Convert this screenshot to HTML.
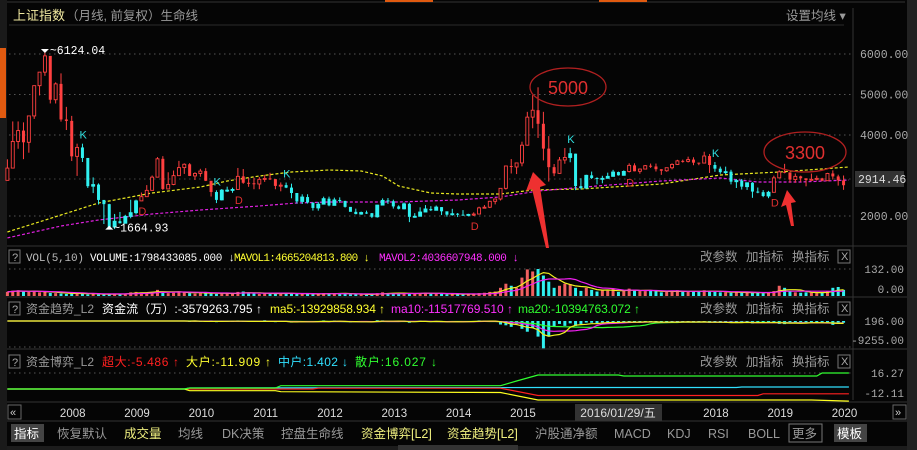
<!DOCTYPE html>
<html><head><meta charset="utf-8">
<style>
html,body{margin:0;padding:0;background:#050505;}
svg{display:block;font-family:"Liberation Sans","Noto Sans CJK SC",sans-serif;}
.m{font-family:"Liberation Mono","Noto Sans CJK SC",monospace;}
</style></head>
<body>
<svg id="c" width="917" height="450" viewBox="0 0 917 450" xmlns="http://www.w3.org/2000/svg">
<rect x="0" y="0" width="917" height="450" fill="#050505"/>
<line x1="0" y1="2" x2="905" y2="2" stroke="#333"/>
<rect x="385" y="0" width="48" height="2" fill="#e05a10"/>
<rect x="599" y="0" width="48" height="2" fill="#e05a10"/>
<rect x="0" y="0" width="7" height="450" fill="#1a1a1a"/>
<rect x="0" y="48" width="6" height="70" fill="#e05a10"/>
<rect x="907" y="0" width="10" height="450" fill="#222"/>
<line x1="853" y1="8" x2="853" y2="400" stroke="#333"/>
<text x="13" y="20" font-size="13" fill="#f0e8a0">上证指数</text>
<text x="66" y="20" font-size="12.5" fill="#9a9a9a">（月线, 前复权）生命线</text>
<text x="786" y="20" font-size="12.5" fill="#9a9a9a">设置均线 ▾</text>
<line x1="9" y1="25" x2="844" y2="25" stroke="#2a2a2a"/>
<line x1="7" y1="246" x2="907" y2="246" stroke="#333"/>
<line x1="7" y1="297" x2="907" y2="297" stroke="#333"/>
<line x1="7" y1="349" x2="907" y2="349" stroke="#333"/>
<line x1="7" y1="402" x2="907" y2="402" stroke="#333"/>
<line x1="7" y1="421" x2="907" y2="421" stroke="#333"/>
<g id="main"></g>
<g id="vol"></g>
<g id="flow"></g>
<g id="game"></g>

<ellipse cx="568" cy="87" rx="38" ry="19" fill="none" stroke="#b02020" stroke-width="1.3"/>
<text x="568" y="94" font-size="18" fill="#e03030" text-anchor="middle">5000</text>
<ellipse cx="805" cy="152" rx="41" ry="20" fill="none" stroke="#b02020" stroke-width="1.3"/>
<text x="805" y="159" font-size="18" fill="#e03030" text-anchor="middle">3300</text>
<polygon points="533,172 526,191 532,189 546,248 549,248 540,187 546,185" fill="#ee3030"/>
<polygon points="787,190 781,207 786,205 791,226 794,226 791,203 796,202" fill="#ee3030"/>

<g font-size="11" class="m">
<rect x="9" y="250" width="11" height="13" fill="none" stroke="#777"/>
<text x="12" y="261" fill="#aaa">?</text>
<text x="26" y="261" fill="#bbb" textLength="58">VOL(5,10)</text>
<text x="90" y="261" fill="#fff" textLength="145">VOLUME:1798433085.000 ↓</text>
<text x="234" y="261" fill="#ffff30" textLength="136">MAVOL1:4665204813.800 ↓</text>
<text x="379" y="261" fill="#ff30ff" textLength="140">MAVOL2:4036607948.000 ↓</text>
</g>
<g font-size="12">
<rect x="9" y="302" width="11" height="13" fill="none" stroke="#777"/>
<text x="12" y="313" fill="#aaa" font-size="11">?</text>
<text x="26" y="313" fill="#999">资金趋势_L2</text>
<text x="102" y="313" fill="#fff" textLength="160">资金流（万）:-3579263.795 ↑</text>
<text x="270" y="313" fill="#ffff30" textLength="115">ma5:-13929858.934 ↑</text>
<text x="391" y="313" fill="#ff30ff" textLength="122">ma10:-11517769.510 ↑</text>
<text x="518" y="313" fill="#30ff30" textLength="122">ma20:-10394763.072 ↑</text>
</g>
<g font-size="12">
<rect x="9" y="355" width="11" height="13" fill="none" stroke="#777"/>
<text x="12" y="366" fill="#aaa" font-size="11">?</text>
<text x="26" y="366" fill="#999">资金博弈_L2</text>
<text x="102" y="366" fill="#ff2020" textLength="77">超大:-5.486 ↑</text>
<text x="186" y="366" fill="#ffff30" textLength="85">大户:-11.909 ↑</text>
<text x="278" y="366" fill="#30e0ff" textLength="70">中户:1.402 ↓</text>
<text x="355" y="366" fill="#30ff30" textLength="82">散户:16.027 ↓</text>
</g>
<g id="btns"></g>

<g>
<rect x="8" y="405" width="13" height="14" fill="none" stroke="#666"/>
<text x="10" y="416" font-size="11" fill="#ccc">«</text>
<rect x="893" y="405" width="13" height="14" fill="none" stroke="#666"/>
<text x="895" y="416" font-size="11" fill="#ccc">»</text>
<rect x="575" y="404" width="87" height="17" fill="#333"/>
<text x="618" y="417" font-size="12" fill="#ddd" text-anchor="middle">2016/01/29/五</text>
<g id="years"></g>
</g>
<g id="tools" font-size="12.5"></g>
<rect x="7" y="446" width="900" height="4" fill="#1c1c1c"/>
<rect x="398" y="445" width="120" height="5" fill="#333"/>
</svg>
<script>
const startLabel = "2007-03";
const closes = [3183,3841,4109,3820,4471,5218,5552,5954,4871,5262,
4383,4348,3473,3693,3433,2736,2776,2397,2293,1729,1871,1821,
1991,2082,2373,2477,2633,2959,3412,2668,2779,2996,3195,3277,
2989,3051,3109,2870,2592,2398,2638,2639,2656,2979,2820,2808,
2790,2905,2928,2911,2743,2762,2701,2568,2359,2468,2333,2199,
2292,2428,2262,2396,2372,2225,2103,2047,2086,2069,1980,2269,
2385,2365,2236,2177,2300,1979,1993,2098,2174,2141,2220,2116,
2033,2056,2033,2026,2039,2048,2201,2217,2363,2420,2683,3235,
3210,3310,3748,4441,4612,4277,3664,3206,3053,3383,3445,3539,
2738,2688,3004,2938,2917,2930,2979,3085,3005,3100,3250,3104,
3159,3242,3223,3155,3117,3192,3273,3361,3349,3393,3317,3307,
3481,3259,3169,3082,3095,2847,2876,2725,2821,2603,2588,2494,
2585,2941,3091,3078,2899,2979,2932,2886,2905,2929,2872,3050,
2977,2880,2760];
const highs = [3400,4335,4335,4312,4476,5218,5552,6124,5900,5300,
5522,4695,4472,3786,3786,3433,2953,2805,2333,2302,2051,2100,
2030,2402,2404,2580,2763,3000,3454,3478,3080,3123,3361,3300,
3306,3081,3165,3181,2850,2635,2667,2724,2700,3186,3160,2944,
2946,2962,3017,3067,2912,2829,2826,2799,2552,2536,2537,2330,
2347,2478,2479,2453,2460,2376,2216,2182,2109,2133,2075,2276,
2435,2444,2404,2264,2334,2327,2070,2215,2270,2243,2259,2220,
2111,2177,2074,2146,2055,2090,2230,2270,2376,2433,2683,3239,
3406,3318,3835,4572,4985,5178,4572,3974,3284,3457,3678,3684,
3539,2933,3018,3097,2956,2993,3070,3140,3096,3126,3301,3301,
3174,3260,3295,3295,3155,3193,3301,3388,3392,3465,3450,3316,
3587,3532,3334,3220,3219,3142,2915,2915,2827,2836,2703,2639,
2621,2996,3129,3288,3072,3050,2996,2918,3048,2997,2943,3066,
3127,3020,3000];
const lows = [2881,3250,3660,3404,3563,4397,4977,5460,4779,4778,
4330,4123,3357,2990,3333,2693,2566,2284,1802,1664,1678,1814,
1844,1943,2037,2367,2551,2629,3016,2639,2712,2761,3068,3039,
2986,2890,2969,2863,2481,2319,2382,2592,2573,2643,2795,2721,
2661,2661,2842,2890,2661,2610,2688,2437,2307,2296,2307,2134,
2132,2283,2242,2262,2326,2208,2113,2042,2030,2051,1949,1959,
2264,2298,2183,2162,2162,1849,1958,2024,2142,2122,2143,2023,
1984,2008,1974,2009,1990,2001,2042,2196,2196,2287,2383,2652,
3050,3035,3227,3737,4166,3927,3373,2850,2983,3045,3290,3327,
2638,2658,2701,2914,2780,2807,2930,2971,2996,2997,3075,3103,
3044,3154,3187,3099,3016,3092,3152,3262,3317,3322,3254,3255,
3306,3063,3091,3042,3037,2782,2691,2653,2644,2449,2563,2465,
2440,2582,2940,3054,2823,2822,2845,2733,2871,2876,2857,2867,
2900,2750,2646];
const firstOpen = 2880;
const volumes = [20,25,28,22,20,25,18,22,15,14,
12,10,13,14,12,8,10,7,8,9,11,10,
12,18,20,18,16,20,30,22,14,16,22,18,
14,12,14,16,14,10,12,14,11,20,22,14,
12,10,14,14,12,12,12,14,10,10,12,8,
8,14,14,12,14,10,8,8,8,6,8,14,
18,14,14,10,14,14,10,14,16,12,12,10,
8,10,10,8,8,8,14,16,20,22,40,60,
50,40,90,130,120,132,100,70,40,50,60,58,
40,25,40,30,22,28,26,34,20,24,36,30,
24,24,26,24,18,20,24,28,22,20,22,24,
28,24,20,18,18,16,20,16,16,16,18,14,
18,24,50,40,22,18,16,18,16,14,18,22,
40,44,30];
const flows = [0,0,0,0,0,0,0,0,0,0,0,0,0,0,0,0,0,0,0,0,0,0,0,0,0,0,0,0,0,0,0,0,0,0,
-300,200,-500,-400,300,-600,200,-300,-200,300,-400,-500,
-300,-200,400,-300,-600,-200,-400,-800,-300,-200,-300,-500,
-200,300,-600,200,-300,-500,-700,-300,-200,-400,-600,400,
300,-200,-500,-300,200,-900,-300,200,-300,-400,-200,-600,
-500,-300,-200,-400,-300,-200,300,200,-200,-400,-1800,-2200,
-3000,-1500,-4000,-5500,-3500,-8000,-14000,-8000,-3000,-1500,-2500,-1200,
-2500,-1500,-800,-900,-1200,-700,-600,-400,-900,-500,-300,-600,
-500,-400,-300,-600,-900,-500,-400,-500,-300,-600,-800,-400,
-300,-900,-700,-900,-500,-1000,-700,-900,-600,-1200,-700,-800,
-1000,-300,-1500,-1600,-1300,-600,-900,-1100,-700,-900,-1100,-600,
-2000,-1500,-900];
const signalIdx = [14,25,39,43,52,87,105,116,132,143];
const signalType = ["K","D","K","D","K","D","K","D","K","D"];
const yellowIdx = [0,10,17,27,36,41,47,53,60,66,70,73,79,84,92,98,107,122,133,144,157];
const yellowVal = [1605,2025,2321,2568,2716,2864,2988,3086,3136,3111,2988,2741,2568,2543,2543,2642,2667,2790,3012,3086,3210];
const magentaIdx = [0,10,17,27,36,47,54,60,73,84,92,99,110,122,133,140,148,157];
const magentaVal = [1460,1753,1901,2049,2148,2247,2321,2346,2346,2395,2469,2617,2741,2864,2938,2840,2840,2889];
const greenIdx = [0,33,34,50,51,92,95,99,114,115,151,152,157];
const greenVal = [-6.4,-6.4,-5,-5,-1.7,-1.7,5,13.5,13.5,12,12,16.3,16.3];
const cyanIdx = [0,33,34,99,136,137,157];
const cyanVal = [-6.4,-6.4,-5,-4.3,-4.3,-3.5,-3.5];
const redIdx = [0,57,58,92,99,140,141,157];
const redVal = [-6.4,-6.4,-5.3,-5.3,-15.6,-15.6,-13.2,-13.2];
const yellowGameIdx = [0,33,34,50,51,92,99,150,157];
const yellowGameVal = [-6.4,-6.4,-8.8,-8.8,-10.2,-11.3,-22,-22,-23.5];
const priceTicks = [2000,4000,5000,6000];
const yearLabels = ["2008","2009","2010","2011","2012","2013","2014","2015","2018","2019","2020"];
const yearIdx = [12,24,36,48,60,72,84,96,132,144,156];

const NS="http://www.w3.org/2000/svg";
const X = i => 61 + (i-10)*5.36;
const Y = v => 216 - (v-2000)*0.0405;
const VY = v => 296 - v*(27/132);
const FY = v => 321 - v*0.00195;
const GY = v => 384.5 - v*0.705;
function mk(parent, tag, attrs){const e=document.createElementNS(NS,tag);for(const k in attrs)e.setAttribute(k,attrs[k]);parent.appendChild(e);return e;}
const main=document.getElementById('main');
priceTicks.forEach(v=>{
  const l=mk(main,'line',{x1:9,x2:851,y1:Y(v),y2:Y(v),stroke:'#555','stroke-dasharray':'1.5 3.5'});
  
  
  const t=mk(main,'text',{x:860,y:Y(v)+4,'font-size':11.5,fill:'#aaa',class:'m'});
  t.textContent=v.toFixed(2);
  
  
});
{const l=mk(main,'line',{x1:9,x2:851,y1:Y(2914),y2:Y(2914),stroke:'#444','stroke-dasharray':'1.5 3.5'});

}
{const r=mk(main,'rect',{x:855,y:Y(2914.46)-8,width:49,height:16,fill:'#333'});


const t=mk(main,'text',{x:858,y:Y(2914.46)+4,'font-size':11.5,fill:'#ddd',class:'m'});
t.textContent='2914.46';

}
function poly(parent, idx, val, sy, color, dash, name){
  let pts=[];
  for(let k=0;k<idx.length;k++){pts.push(X(idx[k]).toFixed(1)+','+sy(val[k]).toFixed(1));}
  const p=mk(parent,'polyline',{points:pts.join(' '),fill:'none',stroke:color,'stroke-width':1.2});
  if(dash)p.setAttribute('stroke-dasharray',dash);
  
  
}
poly(main,yellowIdx,yellowVal,Y,'#e8e820','3 2','life-line-yellow');
poly(main,magentaIdx,magentaVal,Y,'#e020e0','3 2','life-line-magenta');
function regimeAt(i){let r='K0';for(let k=0;k<signalIdx.length;k++){if(signalIdx[k]<=i)r=signalType[k];}return r==='K'?'cyan':'red';}
for(let i=0;i<closes.length;i++){
  const o=i===0?firstOpen:closes[i-1], c=closes[i];
  const col=regimeAt(i)==='cyan'?'#30f0f0':'#ff4040';
  const x=X(i);
  const w=mk(main,'line',{x1:x,x2:x,y1:Y(highs[i]),y2:Y(lows[i]),stroke:col,'stroke-width':1});
  
  
  const top=Y(Math.max(o,c)),bot=Y(Math.min(o,c));
  const up=c>=o;
  const b=mk(main,'rect',{x:x-1.5,y:top,width:3,height:Math.max(1,bot-top),fill:up&&col!=='#30f0f0'?'#050505':col,stroke:col,'stroke-width':up?0.9:0});
  
  
}
for(let k=0;k<signalIdx.length;k++){
  const i=signalIdx[k];
  const isK=signalType[k]==='K';
  const t=mk(main,'text',{x:X(i)-3,y:isK?Y(highs[i])-5:Y(lows[i])+14,'font-size':11,fill:isK?'#30e0e0':'#e03030'});
  t.textContent=signalType[k];
  
  
}
{const hx=X(7), hy=Y(6124);
const p=mk(main,'path',{d:`M${hx-4},${hy} h8 l-4,4z`,fill:'#fff'});


const t=mk(main,'text',{x:hx+5,y:hy+5,'font-size':11.5,fill:'#fff',class:'m'});t.textContent='~6124.04';


const lx=X(19), ly=Y(1664.93);
const p2=mk(main,'path',{d:`M${lx-4},${ly} h8 l-4,-4z`,fill:'#fff'});


const t2=mk(main,'text',{x:lx+4,y:ly+2,'font-size':11.5,fill:'#fff',class:'m'});t2.textContent='~1664.93';

}

const vol=document.getElementById('vol');
[132].forEach(v=>{const l=mk(vol,'line',{x1:9,x2:851,y1:VY(v),y2:VY(v),stroke:'#555','stroke-dasharray':'1.5 3.5'});

});
[[132,'132.00'],[0,'0.00']].forEach(a=>{const t=mk(vol,'text',{x:904,y:(a[0]?VY(a[0]):289)+4,'font-size':11,fill:'#aaa','text-anchor':'end',class:'m'});t.textContent=a[1];

});
for(let i=0;i<volumes.length;i++){
  const o=i===0?firstOpen:closes[i-1];
  const r=mk(vol,'rect',{x:X(i)-1.5,y:VY(volumes[i]),width:3,height:296-VY(volumes[i]),fill:closes[i]>=o?'#f06060':'#30f0f0'});
  
  
}
function ma(arr,n){return arr.map((_,i)=>{const s=arr.slice(Math.max(0,i-n+1),i+1);return s.reduce((a,b)=>a+b,0)/s.length;});}
const allIdx=closes.map((_,i)=>i);
poly(vol,allIdx,ma(volumes,5),VY,'#f0f020',null,'mavol1-line');
poly(vol,allIdx,ma(volumes,10),VY,'#f020f0',null,'mavol2-line');

const flow=document.getElementById('flow');
{const l=mk(flow,'line',{x1:9,x2:851,y1:347,y2:347,stroke:'#555','stroke-dasharray':'1.5 3.5'});

}
[[321,'196.00'],[340,'-9255.00']].forEach(a=>{const t=mk(flow,'text',{x:904,y:a[0]+4,'font-size':11,fill:'#aaa','text-anchor':'end',class:'m'});t.textContent=a[1];

});
for(let i=0;i<flows.length;i++){
  if(flows[i]===0)continue;
  const y0=FY(0),y1=FY(flows[i]);
  const r=mk(flow,'rect',{x:X(i)-1.5,y:Math.min(y0,y1),width:3,height:Math.max(1,Math.abs(y1-y0)),fill:'#30f0f0'});
  
  
}
poly(flow,allIdx,ma(flows,20),FY,'#30ff30',null,'flow-ma20-line');
poly(flow,allIdx,ma(flows,10),FY,'#f020f0',null,'flow-ma10-line');
poly(flow,allIdx,ma(flows,5),FY,'#f0f020',null,'flow-ma5-line');

const game=document.getElementById('game');
{const l=mk(game,'line',{x1:9,x2:851,y1:373,y2:373,stroke:'#555','stroke-dasharray':'1.5 3.5'});

}
[[373,'16.27'],[393,'-12.11']].forEach(a=>{const t=mk(game,'text',{x:904,y:a[0]+4,'font-size':11,fill:'#aaa','text-anchor':'end',class:'m'});t.textContent=a[1];

});
poly(game,cyanIdx,cyanVal,GY,'#30e0ff',null,'medium-line');
poly(game,redIdx,redVal,GY,'#ff2020',null,'super-line');
poly(game,yellowGameIdx,yellowGameVal,GY,'#ffff20',null,'large-line');
poly(game,greenIdx,greenVal,GY,'#30ff30',null,'retail-line');

const btns=document.getElementById('btns');
[261,313,366].forEach(y=>{
  [['改参数',700],['加指标',746],['换指标',792]].forEach(b=>{
    const t=mk(btns,'text',{x:b[1],y:y,'font-size':12.5,fill:'#999'});t.textContent=b[0];
    
    
  });
  const r=mk(btns,'rect',{x:838,y:y-11,width:12,height:13,fill:'none',stroke:'#777'});
  
  
  const t=mk(btns,'text',{x:841,y:y-1,'font-size':11,fill:'#aaa'});t.textContent='X';
  
  
});
const years=document.getElementById('years');
yearLabels.forEach((s,k)=>{
  const t=mk(years,'text',{x:X(yearIdx[k])+1,y:417,'font-size':11.5,fill:'#ddd','text-anchor':'middle'});t.textContent=s;
  
  
});
const tools=document.getElementById('tools');
const toolItems=[['指标',14,'#fff','#444',33],['恢复默认',57,'#999'],['成交量',124,'#f0f080'],['均线',178,'#999'],['DK决策',222,'#999'],['控盘生命线',281,'#999'],['资金博弈[L2]',361,'#f0f080'],['资金趋势[L2]',447,'#f0f080'],['沪股通净额',535,'#999'],['MACD',614,'#999'],['KDJ',667,'#999'],['RSI',708,'#999'],['BOLL',748,'#999'],['更多',792,'#999','none',33],['模板',837,'#fff','#444',33]];
toolItems.forEach(it=>{
  if(it[3]){const r=mk(tools,'rect',{x:it[1]-3,y:424,width:it[4],height:18,fill:it[3],stroke:it[3]==='none'?'#777':'none'});
  
  }
  const t=mk(tools,'text',{x:it[1],y:438,fill:it[2]});t.textContent=it[0];
  
  
});
</script>
</body></html>
